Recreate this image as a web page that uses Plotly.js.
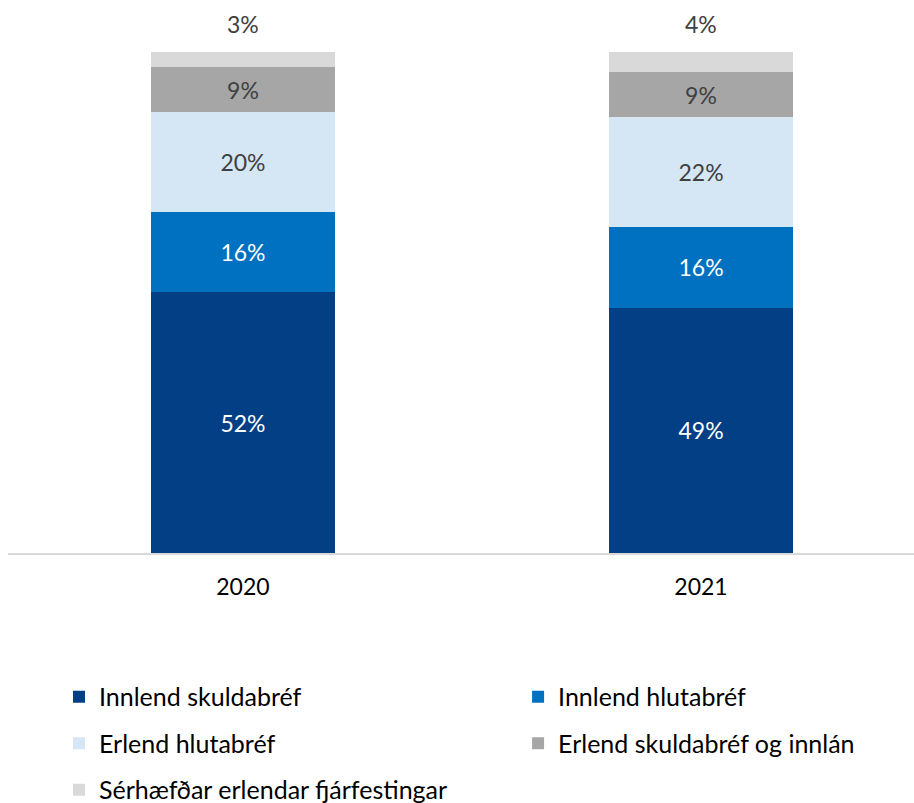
<!DOCTYPE html>
<html>
<head>
<meta charset="utf-8">
<script src="https://cdn.plot.ly/plotly-3.0.1.min.js"></script>
<style>html,body{margin:0;padding:0;background:#fff;}#chart{width:914px;height:803px;}</style>
</head>
<body>
<div id="chart"></div>
<script>
const years = ['2020', '2021'];
const seriesNames = ['Innlend skuldabréf', 'Innlend hlutabréf', 'Erlend hlutabréf', 'Erlend skuldabréf og innlán', 'Sérhæfðar erlendar fjárfestingar'];
const innlendSkuldabref = [52, 49];
const innlendHlutabref = [16, 16];
const erlendHlutabref = [20, 22];
const erlendSkuldabref = [9, 9];
const serhaefdar = [3, 4];

const values = [innlendSkuldabref, innlendHlutabref, erlendHlutabref, erlendSkuldabref, serhaefdar];
const colors = ['#033f85', '#0070c0', '#d5e6f5', '#a6a6a6', '#d9d9d9'];
const textColors = ['#ffffff', '#ffffff', '#404040', '#404040', '#404040'];
const legendOf = ['legend', 'legend2', 'legend', 'legend2', 'legend'];
const FONT = 'Lato, "Open Sans", sans-serif';

const traces = values.map((v, i) => ({
  type: 'bar',
  name: seriesNames[i],
  legend: legendOf[i],
  legendgroup: 'g' + i,
  x: years,
  y: v,
  width: 0.4,
  marker: {color: colors[i], line: {width: 0}},
  text: i === 4 ? null : v.map(d => d + '%'),
  textposition: 'inside',
  insidetextanchor: 'middle',
  textangle: 0,
  constraintext: 'none',
  textfont: {family: FONT, size: 23, color: textColors[i]},
  hoverinfo: 'skip'
}));

// labels of the small top segment, placed above the stack (x = category index)
const annotations = years.map((yr, j) => ({
  x: j, y: 1,
  xref: 'x', yref: 'paper',
  text: serhaefdar[j] + '%',
  showarrow: false,
  yanchor: 'bottom',
  yshift: 12,
  font: {family: FONT, size: 23, color: '#404040'}
}));

const legendCommon = {
  orientation: 'v',
  yanchor: 'top',
  traceorder: 'grouped',
  tracegroupgap: 11,
  bgcolor: 'rgba(0,0,0,0)',
  font: {family: FONT, size: 25, color: '#000000'},
  itemclick: false, itemdoubleclick: false
};

const layout = {
  width: 914, height: 803,
  margin: {l: 8, r: 0, t: 52, b: 250, autoexpand: false},
  paper_bgcolor: '#ffffff', plot_bgcolor: '#ffffff',
  barmode: 'stack',
  showlegend: true,
  font: {family: FONT, size: 23, color: '#000000'},
  xaxis: {
    type: 'category',
    range: [-0.513, 1.465],
    showline: true, linecolor: '#d9d9d9', linewidth: 2,
    showgrid: false, zeroline: false, ticks: '',
    ticklabelstandoff: 12,
    tickfont: {family: FONT, size: 23, color: '#000000'},
    fixedrange: true
  },
  yaxis: {
    range: [0, 100], visible: false, showgrid: false, zeroline: false, fixedrange: true
  },
  legend: Object.assign({}, legendCommon, {x: 0.0563, xanchor: 'left', y: -0.2415}),
  legend2: Object.assign({}, legendCommon, {x: 0.563, xanchor: 'left', y: -0.2415}),
  annotations: annotations
};

Plotly.newPlot('chart', traces, layout, {displayModeBar: false, staticPlot: true});
</script>
</body>
</html>
